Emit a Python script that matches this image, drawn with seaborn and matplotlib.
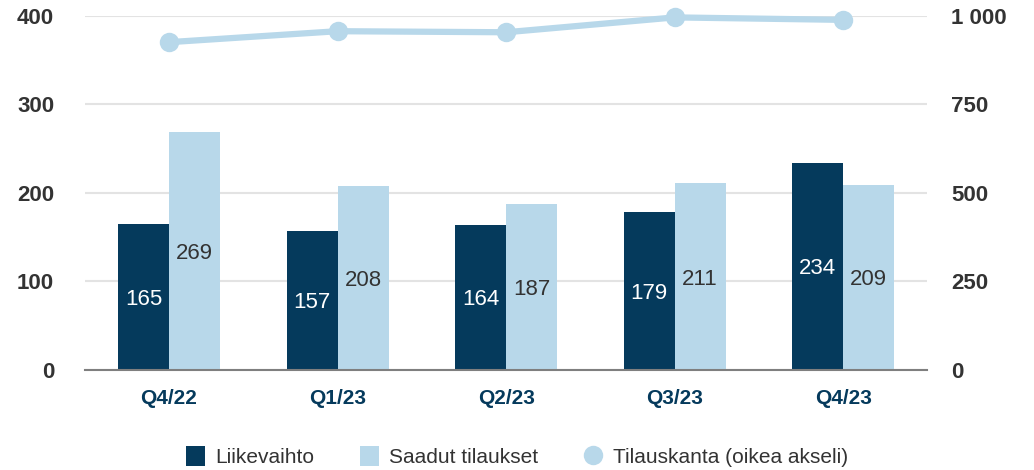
import matplotlib
matplotlib.use("Agg")
import matplotlib.pyplot as plt
import seaborn as sns
import pandas as pd
from matplotlib.lines import Line2D
from matplotlib.patches import Patch
from matplotlib.ticker import FuncFormatter

quarters = ["Q4/22", "Q1/23", "Q2/23", "Q3/23", "Q4/23"]
liikevaihto = [165, 157, 164, 179, 234]
tilaukset = [269, 208, 187, 211, 209]
tilauskanta = [926, 957, 954, 996, 989]

s1 = "Liikevaihto"
s2 = "Saadut tilaukset"
s3 = "Tilauskanta (oikea akseli)"

navy = "#053a5c"
light = "#b8d8ea"
tickc = "#333333"

df = pd.DataFrame({
    "q": quarters * 2,
    "v": liikevaihto + tilaukset,
    "s": [s1] * len(quarters) + [s2] * len(quarters),
})

sns.set_theme(style="white")
plt.rcParams["font.family"] = ["Liberation Sans", "DejaVu Sans"]

fig = plt.figure(figsize=(10.34, 4.70), dpi=100)
ax = fig.add_axes([0.082, 0.213, 0.815, 0.753])

sns.barplot(data=df, x="q", y="v", hue="s", order=quarters, hue_order=[s1, s2],
            palette=[navy, light], width=0.605, ax=ax, legend=False,
            saturation=1, linewidth=0)

for cont, col in zip(ax.containers, ["white", tickc]):
    texts = ax.bar_label(cont, label_type="center", color=col, fontsize=16)
    for t in texts:
        t.set_verticalalignment("center_baseline")

ax.set_ylim(0, 400)
ax.set_yticks([0, 100, 200, 300, 400])
ax.set_xlim(-0.5, 4.5)
ax.set_xlabel("")
ax.set_ylabel("")
ax.yaxis.grid(True, color="#e3e3e3", linewidth=1.5)
ax.set_axisbelow(True)
for sp in ["top", "right", "left"]:
    ax.spines[sp].set_visible(False)
ax.spines["bottom"].set_color("#7f7f7f")
ax.spines["bottom"].set_linewidth(1.5)
ax.tick_params(axis="y", length=0, pad=22, labelsize=16, labelcolor=tickc)
ax.tick_params(axis="x", length=0, pad=14, labelsize=15, labelcolor=navy)
for t in ax.get_yticklabels():
    t.set_fontweight("bold")
for t in ax.get_xticklabels():
    t.set_fontweight("bold")

ax2 = ax.twinx()
sns.lineplot(x=list(range(len(quarters))), y=tilauskanta, ax=ax2, color=light,
             linewidth=4.5, marker="o", markersize=14, markeredgewidth=0,
             sort=False, legend=False, clip_on=False)
ax2.set_ylim(0, 1000)
ax2.set_yticks([0, 250, 500, 750, 1000])
ax2.yaxis.set_major_formatter(FuncFormatter(lambda v, p: f"{int(v):,}".replace(",", " ")))
ax2.set_xlim(-0.5, 4.5)
ax2.grid(False)
for sp in ["top", "right", "left", "bottom"]:
    ax2.spines[sp].set_visible(False)
ax2.tick_params(axis="y", length=0, pad=17, labelsize=16, labelcolor=tickc)
for t in ax2.get_yticklabels():
    t.set_fontweight("bold")
    t.set_horizontalalignment("left")
ax2.set_ylabel("")
for ln in ax2.get_lines():
    ln.set_clip_on(False)

handles = [
    Patch(facecolor=navy, edgecolor="none"),
    Patch(facecolor=light, edgecolor="none"),
    Line2D([], [], color="none", marker="o", markerfacecolor=light,
           markeredgewidth=0, markersize=14),
]
fig.legend(handles, [s1, s2, s3], loc="center", bbox_to_anchor=(0.5, 0.028),
           ncol=3, frameon=False, fontsize=15, handlelength=0.9, handleheight=1.1,
           columnspacing=2.2, handletextpad=0.5, labelcolor=tickc)

fig.savefig("out.png", dpi=100)
